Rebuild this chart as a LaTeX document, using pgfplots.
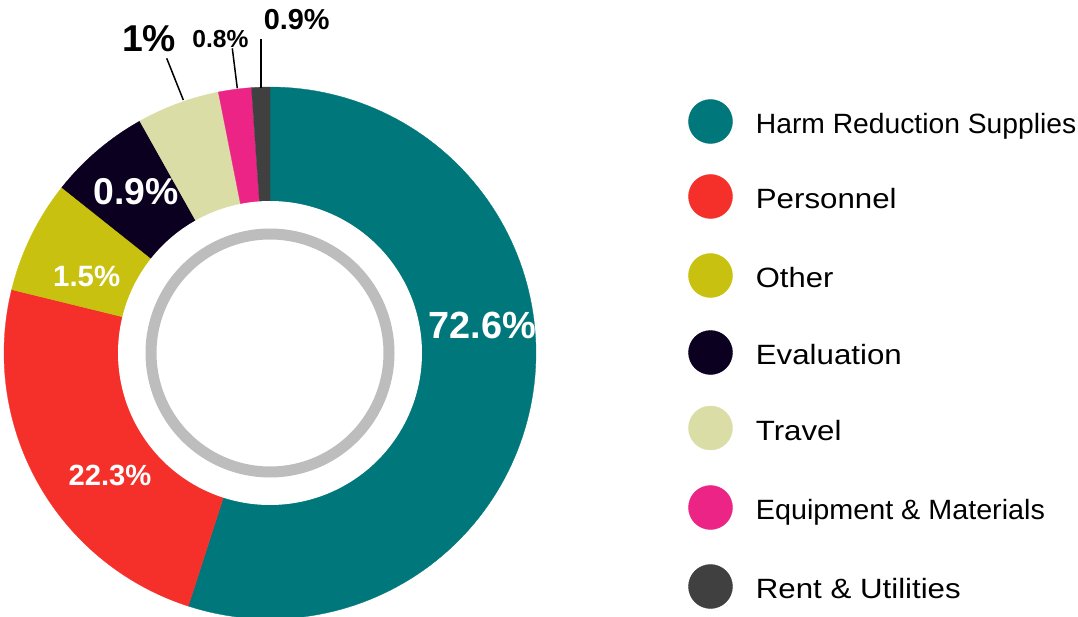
\documentclass[border=0pt]{standalone}
\usepackage{pgfplots}
\pgfplotsset{compat=1.18}
\usepackage{pgfplotstable}
\usepackage{fontspec}
\setmainfont{Liberation Sans}

\definecolor{hrs}{HTML}{00777A}
\definecolor{pers}{HTML}{F5302A}
\definecolor{oth}{HTML}{C9C10F}
\definecolor{eval}{HTML}{0B0020}
\definecolor{trav}{HTML}{DADEA6}
\definecolor{equip}{HTML}{EC2485}
\definecolor{rent}{HTML}{404040}
\definecolor{ringgray}{HTML}{BDBDBD}

\tikzset{lbl/.style={inner sep=0pt, anchor=base},
         leg/.style={inner sep=0pt, anchor=base west, font=\fontsize{28}{28}\selectfont}}

% share of the ring as drawn (percent), clockwise from 12 o'clock
\pgfplotstableread{
share col
54.97 hrs
23.86 pers
6.86  oth
6.17  eval
5.03  trav
2.00  equip
1.11  rent
}\budget

\begin{document}
\begin{tikzpicture}
\begin{axis}[
    x=1bp, y=1bp, y dir=reverse,
    xmin=0, xmax=1078, ymin=0, ymax=617,
    scale only axis, hide axis,
]
\path (axis cs:0,0) rectangle (axis cs:1078,617);

% wedges
\def\cum{0}
\pgfplotsforeachungrouped \i in {0,...,6}{%
  \pgfplotstablegetelem{\i}{share}\of\budget \let\wShare\pgfplotsretval
  \pgfplotstablegetelem{\i}{col}\of\budget \let\wCol\pgfplotsretval
  \pgfmathsetmacro\wA{-90+3.6*\cum}%
  \pgfmathsetmacro\wB{-90+3.6*(\cum+\wShare)}%
  \edef\cmd{\noexpand\addplot[fill=\wCol, draw=\wCol, line width=0.3bp, domain=\wA:\wB, samples=120]
    ({270+266*cos(x)}, {353+266*sin(x)}) -- (axis cs:270,353) -- cycle;}%
  \cmd
  \pgfmathsetmacro\cum{\cum+\wShare}%
}

% hole and inner grey ring
\addplot[fill=white, draw=none, domain=0:360, samples=181] ({270+152*cos(x)}, {353+152*sin(x)}) -- cycle;
\addplot[draw=ringgray, line width=11bp, domain=0:360, samples=181] ({270+119*cos(x)}, {353+119*sin(x)}) -- cycle;

% labels on the ring
\node[lbl, text=white, font=\bfseries\fontsize{38}{38}\selectfont] at (axis cs:482.3,338.3) {72.6\%};
\node[lbl, text=white, font=\bfseries\fontsize{29.3}{30}\selectfont] at (axis cs:110,485) {22.3\%};
\node[lbl, text=white, font=\bfseries\fontsize{29.5}{30}\selectfont] at (axis cs:86.7,286.7) {1.5\%};
\node[lbl, text=white, font=\bfseries\fontsize{37.5}{38}\selectfont] at (axis cs:136.3,205) {0.9\%};

% labels outside with leaders
\node[lbl, font=\bfseries\fontsize{37.5}{38}\selectfont] at (axis cs:149.2,51.7) {1\%};
\node[lbl, font=\bfseries\fontsize{24.7}{25}\selectfont] at (axis cs:220.5,47.3) {0.8\%};
\node[lbl, font=\bfseries\fontsize{29}{30}\selectfont] at (axis cs:296.7,30) {0.9\%};
\draw[line width=1.5bp] (axis cs:166.7,58.3) -- (axis cs:183.3,100);
\draw[line width=1.5bp] (axis cs:232.3,48.3) -- (axis cs:237.3,88.3);
\draw[line width=1.5bp] (axis cs:261,39.3) -- (axis cs:261,88);

% legend
\addplot[only marks, mark=*, mark size=22bp, color=hrs]   coordinates {(710.5,121.5)};
\addplot[only marks, mark=*, mark size=22bp, color=pers]  coordinates {(710.5,196.5)};
\addplot[only marks, mark=*, mark size=22bp, color=oth]   coordinates {(710.5,275.5)};
\addplot[only marks, mark=*, mark size=22bp, color=eval]  coordinates {(710.5,352.5)};
\addplot[only marks, mark=*, mark size=22bp, color=trav]  coordinates {(710.5,428)};
\addplot[only marks, mark=*, mark size=22bp, color=equip] coordinates {(710.5,507.5)};
\addplot[only marks, mark=*, mark size=22bp, color=rent]  coordinates {(710.5,586.5)};

\node[leg] at (axis cs:755.7,133.5) {\scalebox{1.013}[1]{Harm Reduction Supplies}};
\node[leg] at (axis cs:755.7,208.5) {\scalebox{1.12}[1]{Personnel}};
\node[leg] at (axis cs:755.7,287.5) {\scalebox{1.11}[1]{Other}};
\node[leg] at (axis cs:755.7,364.5) {\scalebox{1.12}[1]{Evaluation}};
\node[leg] at (axis cs:755.7,440) {\scalebox{1.12}[1]{Travel}};
\node[leg] at (axis cs:755.7,519.5) {\scalebox{1.03}[1]{Equipment \& Materials}};
\node[leg] at (axis cs:755.7,598.5) {\scalebox{1.12}[1]{Rent \& Utilities}};
\end{axis}
\end{tikzpicture}
\end{document}
